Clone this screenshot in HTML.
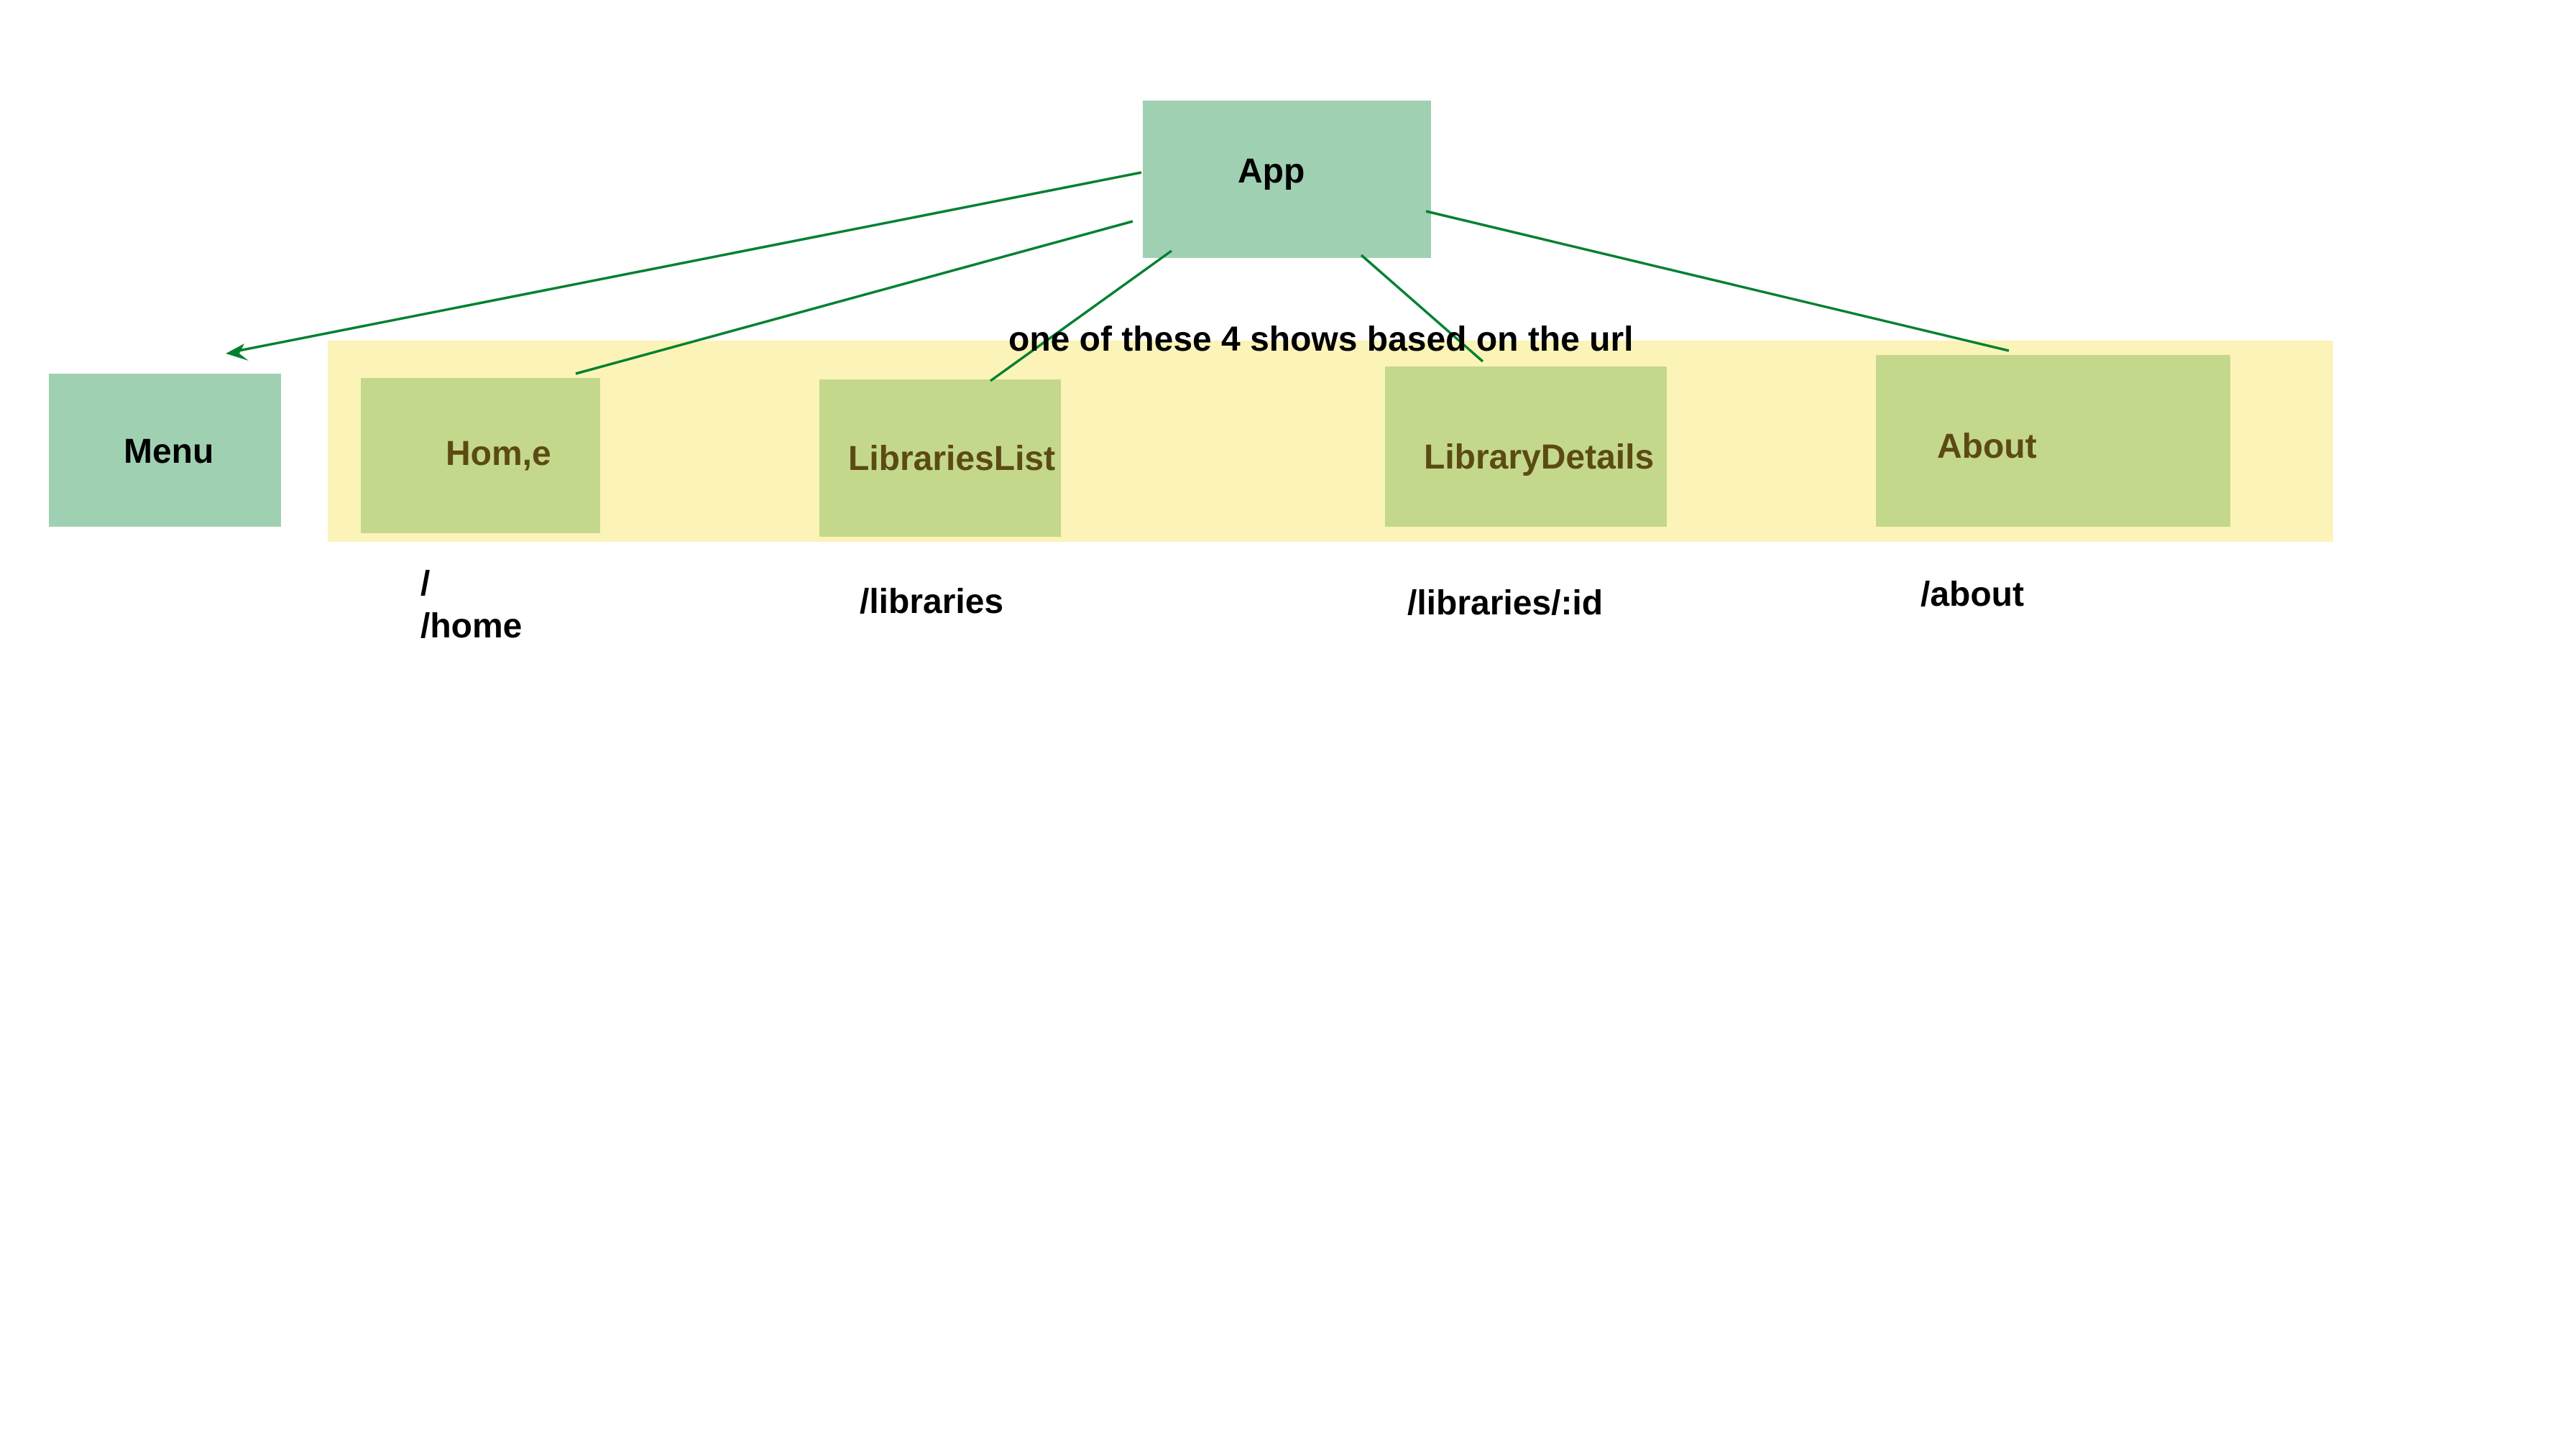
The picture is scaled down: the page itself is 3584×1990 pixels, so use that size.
<!DOCTYPE html>
<html><head><meta charset="utf-8"><style>
html,body{margin:0;padding:0;background:#fff;}
svg{display:block}
text{font-family:"Liberation Sans",sans-serif;font-weight:bold;font-size:48px}
</style></head><body>
<svg width="3584" height="1990" viewBox="0 0 3584 1990" xmlns="http://www.w3.org/2000/svg">
<rect x="0" y="0" width="3584" height="1990" fill="#fff"/>
<rect x="1590" y="140" width="401" height="219" fill="#a0d0b2"/>
<rect x="68" y="520" width="323" height="213" fill="#a0d0b2"/>
<rect x="456" y="474" width="2790" height="280" fill="#fcf3b8"/>
<rect x="502" y="526" width="333" height="216" fill="#c3d88b"/>
<rect x="1140" y="528" width="336" height="219" fill="#c3d88b"/>
<rect x="1927" y="510" width="392" height="223" fill="#c3d88b"/>
<rect x="2610" y="494" width="493" height="239" fill="#c3d88b"/>
<g stroke="#00802f" stroke-width="3.5" fill="none">
<line x1="1588" y1="240" x2="322" y2="490"/>
<line x1="1576" y1="308" x2="801" y2="520"/>
<line x1="1630" y1="349" x2="1378" y2="530"/>
<line x1="1894" y1="355" x2="2063" y2="503"/>
<line x1="1984" y1="294" x2="2795" y2="488"/>
</g>
<polygon points="314,492 340,478 333,492 346,502" fill="#00802f"/>
<text x="1722" y="254">App</text>
<text x="172" y="644">Menu</text>
<text x="620" y="647" fill="#5c4a14">Hom,e</text>
<text x="1180" y="654" fill="#5c4a14">LibrariesList</text>
<text x="1981" y="652" fill="#5c4a14">LibraryDetails</text>
<text x="2695" y="637" fill="#5c4a14">About</text>
<text x="1403" y="488">one of these 4 shows based on the url</text>
<text x="585" y="828">/</text>
<text x="585" y="887">/home</text>
<text x="1196" y="853">/libraries</text>
<text x="1958" y="855">/libraries/:id</text>
<text x="2672" y="843">/about</text>
</svg>
</body></html>
